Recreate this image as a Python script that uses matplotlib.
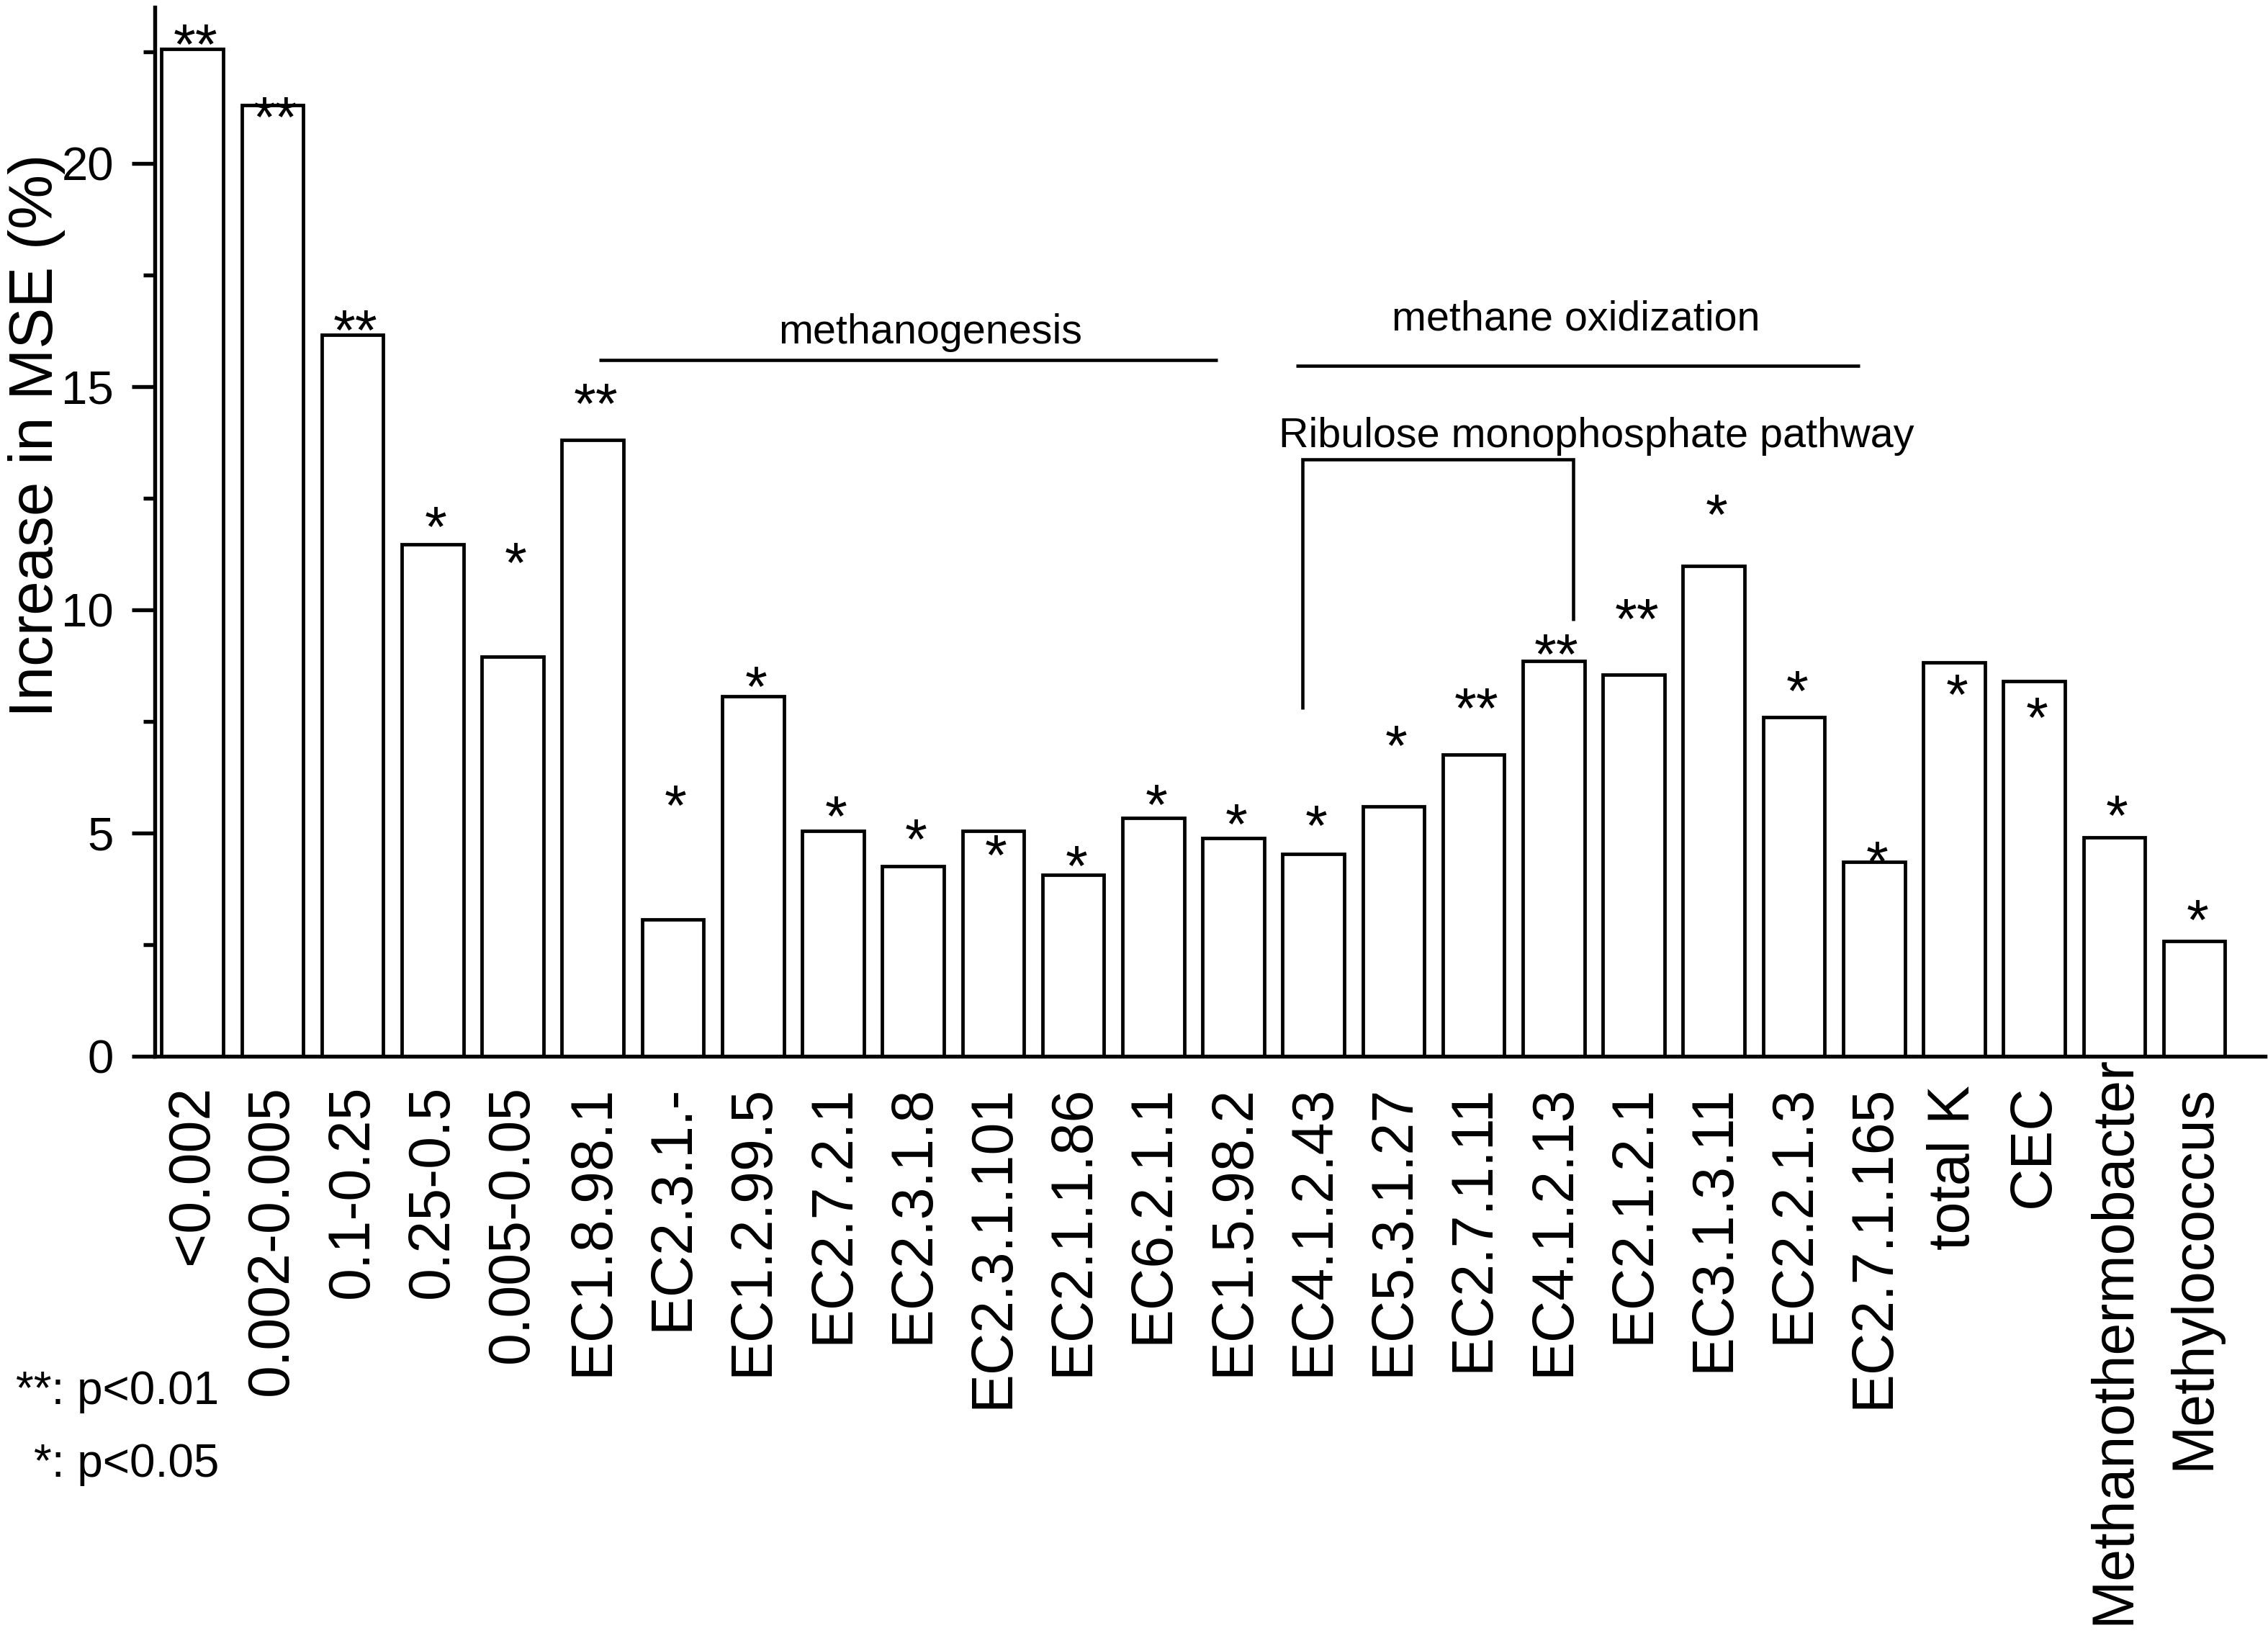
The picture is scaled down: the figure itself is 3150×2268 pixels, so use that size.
import matplotlib
matplotlib.use("Agg")
import matplotlib.pyplot as plt
from matplotlib.ticker import MultipleLocator
from matplotlib.transforms import offset_copy, ScaledTranslation

plt.rcParams['font.family'] = ['Liberation Sans', 'DejaVu Sans']

categories = ["<0.002", "0.002-0.005", "0.1-0.25", "0.25-0.5", "0.005-0.05",
              "EC1.8.98.1", "EC2.3.1.-", "EC1.2.99.5", "EC2.7.2.1", "EC2.3.1.8",
              "EC2.3.1.101", "EC2.1.1.86", "EC6.2.1.1", "EC1.5.98.2", "EC4.1.2.43",
              "EC5.3.1.27", "EC2.7.1.11", "EC4.1.2.13", "EC2.1.2.1", "EC3.1.3.11",
              "EC2.2.1.3", "EC2.7.1.165", "total K", "CEC", "Methanothermobacter",
              "Methylococcus"]
values = [22.56, 21.30, 16.16, 11.46, 8.95,
          13.80, 3.06, 8.07, 5.04, 4.26,
          5.04, 4.06, 5.34, 4.89, 4.53,
          5.59, 6.76, 8.86, 8.55, 10.98,
          7.60, 4.35, 8.82, 8.40, 4.91,
          2.58]
sig_marks = ["**", "**", "**", "*", "*",
             "**", "*", "*", "*", "*",
             "*", "*", "*", "*", "*",
             "*", "**", "**", "**", "*",
             "*", "*", "*", "*", "*",
             "*"]
sig_levels = [22.81, 21.18, 16.41, 12.0, 11.2,
              14.76, 5.76, 8.42, 5.51, 5.0,
              4.64, 4.41, 5.77, 5.34, 5.30,
              7.1, 7.93, 9.15, 9.94, 12.28,
              8.32, 4.5, 8.25, 7.72, 5.53,
              3.2]
yticks = [0, 5, 10, 15, 20]

fig = plt.figure(figsize=(10.5, 7.56), dpi=300)
ax = fig.add_axes([0.06825, 0.3532, 0.9305, 0.6424])

x = list(range(len(categories)))
ax.bar(x, values, width=0.77, facecolor='white', edgecolor='black', linewidth=1.15)

ax.set_xlim(-0.469, 25.885)
ax.set_ylim(0, 23.5)
ax.set_xticks(x)
ax.set_xticklabels(categories, rotation=90, fontsize=19.4)
ax.set_yticks(yticks)
ax.yaxis.set_minor_locator(MultipleLocator(2.5))
ax.tick_params(axis='x', length=0, pad=9.5)
ax.tick_params(axis='y', which='major', length=7.7, width=1.3, labelsize=15.7, pad=6, direction='out')
ax.tick_params(axis='y', which='minor', length=3.8, width=1.3, direction='out')
for s in ['top', 'right']:
    ax.spines[s].set_visible(False)
for s in ['left', 'bottom']:
    ax.spines[s].set_linewidth(1.3)

# shift the long label up so it fits
lbl = ax.get_xticklabels()[categories.index("Methanothermobacter")]
lbl.set_transform(lbl.get_transform() + ScaledTranslation(0, 9.8 / 72, fig.dpi_scale_trans))

ax.set_ylabel("Increase in MSE (%)", fontsize=20.5)
ax.yaxis.label.set_va('center')
ax.yaxis.set_label_coords(-0.056, 0.592)

star_fs = 19
star_tr = offset_copy(ax.transData, fig=fig, x=1.0, y=-0.455 * star_fs, units='points')
for xi, m, lv in zip(x, sig_marks, sig_levels):
    ax.text(xi, lv, m, ha='center', va='baseline', fontsize=star_fs, transform=star_tr)

ann_fs = 13.8
lw_ann = 1.1
# methanogenesis
ax.plot([5.08, 12.80], [15.6, 15.6], color='black', lw=lw_ann, solid_capstyle='butt')
ax.text(9.22, 15.97, "methanogenesis", ha='center', va='baseline', fontsize=ann_fs)
# methane oxidization
ax.plot([13.78, 20.82], [15.47, 15.47], color='black', lw=lw_ann, solid_capstyle='butt')
ax.text(17.28, 16.27, "methane oxidization", ha='center', va='baseline', fontsize=ann_fs)
# Ribulose monophosphate pathway bracket
ax.plot([13.86, 13.86, 17.24, 17.24], [7.78, 13.37, 13.37, 9.76], color='black', lw=lw_ann,
        solid_capstyle='butt', solid_joinstyle='miter')
ax.text(17.53, 13.64, "Ribulose monophosphate pathway", ha='center', va='baseline', fontsize=ann_fs)

fig.text(0.0965, 0.140, "**: p<0.01", ha='right', va='baseline', fontsize=15.3)
fig.text(0.0965, 0.0957, "*: p<0.05", ha='right', va='baseline', fontsize=15.3)

fig.savefig("out.png", dpi=300)
